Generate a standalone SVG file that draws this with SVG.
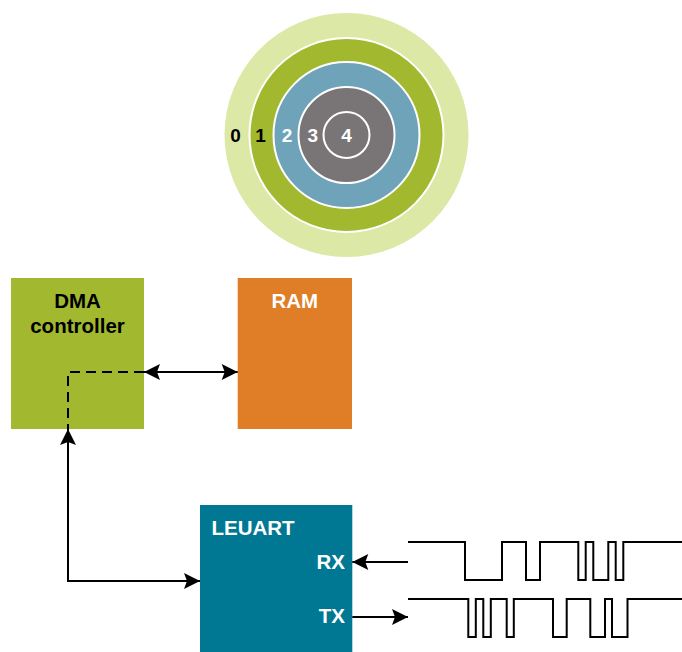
<svg xmlns="http://www.w3.org/2000/svg" width="682" height="652" viewBox="0 0 682 652">
<style>
.lbl{font-family:"Liberation Sans",Arial,sans-serif;font-weight:bold;font-size:20.5px}
.num{font-family:"Liberation Sans",Arial,sans-serif;font-weight:bold;font-size:19px;text-anchor:middle}
.w{fill:#ffffff}
.k{fill:#000000}
.ring{stroke:#ffffff;stroke-width:2}
.conn{fill:none;stroke:#000000;stroke-width:2}
.wave{fill:none;stroke:#000000;stroke-width:2;stroke-linejoin:miter}
</style>
<defs>
<marker id="arr" viewBox="-1 -9 18 18" refX="16" refY="0" markerWidth="18" markerHeight="18" markerUnits="userSpaceOnUse" orient="auto-start-reverse">
<path d="M0,-8 L16,0 L0,8 L3,0 Z" fill="#000000"/>
</marker>
</defs>
<g id="rings">
<circle cx="346.5" cy="135" r="122" fill="#DCE8A6"/>
<circle class="ring" cx="346.5" cy="135" r="97" fill="#A2B92F"/>
<circle class="ring" cx="346.5" cy="135" r="73" fill="#6EA3B9"/>
<circle class="ring" cx="346.5" cy="135" r="48" fill="#797576"/>
<circle class="ring" cx="346.5" cy="135" r="23" fill="#797576"/>
<text class="num k" x="235.5" y="141.8">0</text>
<text class="num k" x="260.5" y="141.8">1</text>
<text class="num w" x="287" y="141.8">2</text>
<text class="num w" x="312.8" y="141.8">3</text>
<text class="num w" x="346.5" y="141.8">4</text>
</g>
<g id="dma">
<rect x="11" y="278" width="133" height="151" fill="#A2B92F"/>
<text class="lbl k" x="77.5" y="307.7" text-anchor="middle">DMA</text>
<text class="lbl k" x="77.5" y="333.3" text-anchor="middle">controller</text>
</g>
<g id="ram">
<rect x="237.7" y="278" width="114.3" height="151" fill="#E07E27"/>
<text class="lbl w" x="294.8" y="307.7" text-anchor="middle">RAM</text>
</g>
<g id="leuart">
<rect x="200" y="505" width="152.3" height="147" fill="#007894"/>
<text class="lbl w" x="211.5" y="535">LEUART</text>
<text class="lbl w" x="345" y="569.3" text-anchor="end">RX</text>
<text class="lbl w" x="345" y="623.3" text-anchor="end">TX</text>
</g>
<g id="waves">
<path class="wave" d="M408,542 H465 V580 H502 V542 H526 V580 H540 V542 H578.3 V580 H585.7 V542 H593.3 V580 H608.3 V542 H615.7 V580 H623.3 V542 H682"/>
<path class="wave" d="M408,599 H468.3 V637 H475.8 V599 H483.3 V637 H490.8 V599 H506.7 V637 H513.8 V599 H553 V637 H566.7 V599 H590.3 V637 H605 V599 H612 V637 H627.5 V599 H682"/>
</g>
<g id="connectors">
<path class="conn" d="M144,372 H68 V429" stroke-dasharray="10 6"/>
<path class="conn" d="M144,372 H237.7" marker-start="url(#arr)" marker-end="url(#arr)"/>
<path class="conn" d="M68,429 V581 H200" marker-start="url(#arr)" marker-end="url(#arr)"/>
<path class="conn" d="M408,562 H352.3" marker-end="url(#arr)"/>
<path class="conn" d="M352.3,617 H408" marker-end="url(#arr)"/>
</g>
</svg>
